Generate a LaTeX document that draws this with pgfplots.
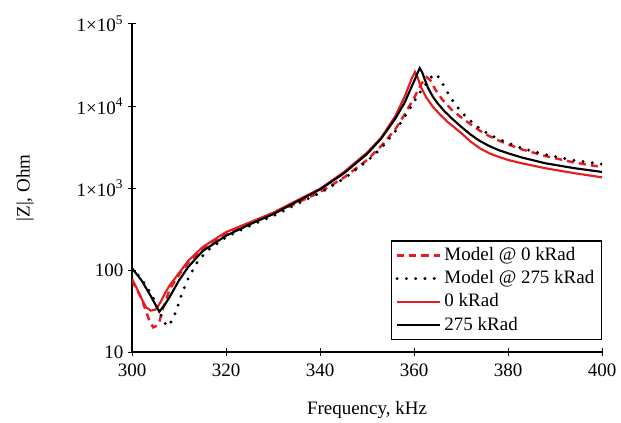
\documentclass[border=0pt]{standalone}
\usepackage{fontspec}
\setmainfont{Liberation Serif}
\usepackage{pgfplots}
\pgfplotsset{compat=1.18}
\definecolor{myred}{RGB}{232,28,32}
\begin{document}
\fontsize{13.3}{16}\selectfont
\begin{tikzpicture}
\useasboundingbox (-92.5pt,-49pt) rectangle (342.5pt,246.6pt);
\begin{axis}[
 scale only axis, width=329.2pt, height=229.8pt,
 at={(0,0)}, anchor=south west,
 ymode=log, xmin=300, xmax=400, ymin=10, ymax=100000,
 axis x line*=bottom, axis y line*=left,
 axis line style={line width=0.8pt},
 xtick={300,320,340,360,380,400},
 xticklabels={300,320,340,360,380,400},
 ytick={10,100,1000,10000,100000},
 yticklabels={10,100,1×10\textsuperscript{3},1×10\textsuperscript{4},1×10\textsuperscript{5}},
 yminorticks=false, xminorticks=false,
 tick align=center, major tick length=5pt,
 tick style={black, line width=0.7pt},
 every tick label/.append style={font=\fontsize{13.3}{16}\selectfont},
 xticklabel style={yshift=-1pt},
 yticklabel style={xshift=1pt},
 xlabel={Frequency, kHz},
 ylabel={|Z|, Ohm},
 xlabel style={at={(axis description cs:0.5,-0.177)}, anchor=center, font=\fontsize{13.3}{16}\selectfont},
 ylabel style={at={(axis description cs:-0.2277,0.5)}, anchor=center, font=\fontsize{13.3}{16}\selectfont},
 legend style={at={(rel axis cs:1,0.037)}, anchor=south east, draw=black, line width=0.8pt,
   font=\fontsize{13.3}{16}\selectfont, row sep=1pt, inner xsep=3pt, inner ysep=2.5pt},
 legend cell align=left,
 legend image code/.code={\draw[#1] (0pt,0pt) -- (30pt,0pt);},
]
% Model @ 0 kRad
\addplot[myred, line width=1.7pt, dash pattern=on 5pt off 3.5pt] coordinates {
(300,75) (301,58) (302,45) (303,31) (303.7,24) (304.5,20) (305.3,21) (305.8,23) (306.5,33) (307.5,48) (308,58) (310,88) (312,124) (315,183) (320,282) (325,372) (330,485) (335,655) (340,890) (345,1330) (350,2200) (353,3250) (356,5200) (358,7900) (360,12500) (361.5,18500) (362.7,22500) (363.5,20500) (364.5,16000) (366,12000) (368,9000) (370,7300) (372,6000) (374,5000) (376,4300) (378,3800) (380,3400) (383,2950) (388,2450) (394,2050) (400,1800)
};
\addlegendentry{Model @ 0 kRad}
% Model @ 275 kRad
\addplot[black, line width=2.3pt, line cap=round, dash pattern=on 0pt off 6.5pt] coordinates {
(300,105) (302,78) (304,52) (305.5,35) (306.5,25) (307.5,20.5) (308.5,24) (309.5,33) (310.5,50) (312,80) (314,128) (316,172) (320,252) (325,345) (330,455) (335,635) (340,870) (345,1290) (350,2120) (353,3050) (356,4900) (358,7400) (360,11300) (362,17000) (363.8,23000) (364.8,24500) (365.8,20000) (367,15000) (368.5,11000) (370,8500) (372,6600) (374,5300) (376,4500) (378,3950) (380,3550) (383,3050) (388,2550) (394,2180) (400,1950)
};
\addlegendentry{Model @ 275 kRad}
% 0 kRad measured
\addplot[myred, line width=1.5pt] coordinates {
(300,78) (301,60) (302,45) (303,35) (304,32) (305,33) (306,40) (307,52) (308,65) (310,92) (312,130) (315,190) (320,290) (325,380) (330,500) (335,700) (340,980) (345,1550) (350,2700) (353,4100) (356,7500) (358,13000) (359.5,21500) (360.2,26000) (360.8,22000) (361.5,17000) (362.5,13000) (364,9800) (365.5,7900) (367,6500) (370,4700) (372,3700) (374,3050) (376,2650) (378,2400) (380,2200) (383,2000) (388,1740) (394,1520) (400,1350)
};
\addlegendentry{0 kRad}
% 275 kRad measured
\addplot[black, line width=1.5pt] coordinates {
(300,105) (302,75) (304,48) (305.8,31) (307,38) (308,47) (310,75) (312,110) (315,170) (320,262) (325,360) (330,480) (335,680) (340,960) (345,1500) (350,2600) (353,4000) (356,7000) (358,11000) (360,20000) (361.2,29000) (361.7,26000) (362.3,21000) (363,16500) (364,13000) (365,10800) (366.5,8600) (368,7100) (370,5600) (372,4500) (374,3750) (376,3250) (378,2900) (380,2650) (383,2350) (388,2000) (394,1750) (400,1570)
};
\addlegendentry{275 kRad}
\end{axis}
\end{tikzpicture}
\end{document}
